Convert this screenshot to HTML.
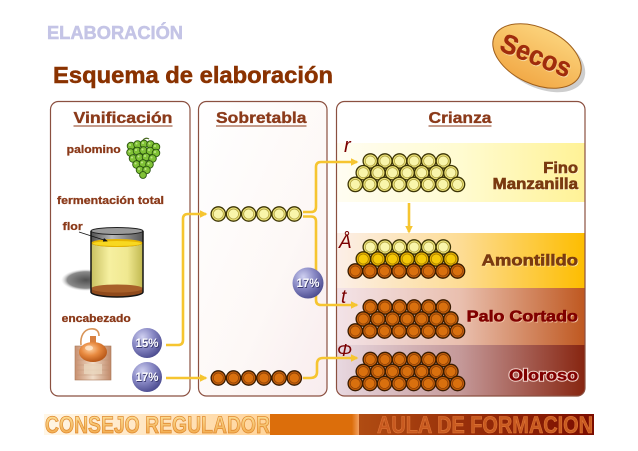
<!DOCTYPE html>
<html><head><meta charset="utf-8">
<style>
html,body{margin:0;padding:0;background:#fff;}
svg{display:block;}
text{font-family:"Liberation Sans",sans-serif;font-weight:bold;}
</style></head>
<body>
<svg width="638" height="451" viewBox="0 0 638 451" xmlns="http://www.w3.org/2000/svg">
<defs>
  <g id="by"><circle r="7.2" fill="#ebe177" stroke="#3d3505" stroke-width="1.3"/><circle r="5" fill="#f9f5aa" stroke="#aa9c3c" stroke-width="0.7"/></g>
  <g id="bg"><circle r="7.2" fill="#e6b000" stroke="#3d3000" stroke-width="1.3"/><circle r="5" fill="#f5c808" stroke="#a07800" stroke-width="0.7"/></g>
  <g id="bb"><circle r="7.2" fill="#c25e0c" stroke="#3a1c00" stroke-width="1.3"/><circle r="5" fill="#d9700e" stroke="#8a4008" stroke-width="0.7"/></g>

  <g id="r6y"><use href="#by" x="0"/><use href="#by" x="14.6"/><use href="#by" x="29.2"/><use href="#by" x="43.8"/><use href="#by" x="58.4"/><use href="#by" x="73"/></g>
  <g id="r7y"><use href="#by" x="0"/><use href="#by" x="14.6"/><use href="#by" x="29.2"/><use href="#by" x="43.8"/><use href="#by" x="58.4"/><use href="#by" x="73"/><use href="#by" x="87.6"/></g>
  <g id="r8y"><use href="#by" x="0"/><use href="#by" x="14.6"/><use href="#by" x="29.2"/><use href="#by" x="43.8"/><use href="#by" x="58.4"/><use href="#by" x="73"/><use href="#by" x="87.6"/><use href="#by" x="102.2"/></g>
  <g id="r7g"><use href="#bg" x="0"/><use href="#bg" x="14.6"/><use href="#bg" x="29.2"/><use href="#bg" x="43.8"/><use href="#bg" x="58.4"/><use href="#bg" x="73"/><use href="#bg" x="87.6"/></g>
  <g id="r6b"><use href="#bb" x="0"/><use href="#bb" x="14.6"/><use href="#bb" x="29.2"/><use href="#bb" x="43.8"/><use href="#bb" x="58.4"/><use href="#bb" x="73"/></g>
  <g id="r7b"><use href="#bb" x="0"/><use href="#bb" x="14.6"/><use href="#bb" x="29.2"/><use href="#bb" x="43.8"/><use href="#bb" x="58.4"/><use href="#bb" x="73"/><use href="#bb" x="87.6"/></g>
  <g id="r8b"><use href="#bb" x="0"/><use href="#bb" x="14.6"/><use href="#bb" x="29.2"/><use href="#bb" x="43.8"/><use href="#bb" x="58.4"/><use href="#bb" x="73"/><use href="#bb" x="87.6"/><use href="#bb" x="102.2"/></g>
  <g id="s6y"><use href="#by" x="0"/><use href="#by" x="15.2"/><use href="#by" x="30.4"/><use href="#by" x="45.6"/><use href="#by" x="60.8"/><use href="#by" x="76"/></g>
  <g id="s6b"><use href="#bb" x="0"/><use href="#bb" x="15.2"/><use href="#bb" x="30.4"/><use href="#bb" x="45.6"/><use href="#bb" x="60.8"/><use href="#bb" x="76"/></g>

  <marker id="ah" viewBox="0 0 10 10" refX="8" refY="5" markerWidth="3" markerHeight="3" orient="auto" markerUnits="strokeWidth">
    <path d="M0,0 L10,5 L0,10 z" fill="#f6c530"/>
  </marker>
  <marker id="ak" viewBox="0 0 10 10" refX="8" refY="5" markerWidth="6" markerHeight="6" orient="auto" markerUnits="strokeWidth">
    <path d="M0,1 L10,5 L0,9 z" fill="#111"/>
  </marker>

  <linearGradient id="gFino" x1="0" x2="1" y1="0" y2="0"><stop offset="0" stop-color="#fffdf2"/><stop offset="0.5" stop-color="#fffbd0"/><stop offset="1" stop-color="#fff296"/></linearGradient>
  <linearGradient id="gAmon" x1="0" x2="1"><stop offset="0" stop-color="#fcefe8"/><stop offset="0.5" stop-color="#fddc94"/><stop offset="1" stop-color="#fdbd00"/></linearGradient>
  <linearGradient id="gPalo" x1="0" x2="1"><stop offset="0" stop-color="#f3e3e8"/><stop offset="0.5" stop-color="#e9bfae"/><stop offset="1" stop-color="#bf5820"/></linearGradient>
  <linearGradient id="gOlo" x1="0" x2="1"><stop offset="0" stop-color="#e8d8e0"/><stop offset="0.5" stop-color="#c49898"/><stop offset="1" stop-color="#872510"/></linearGradient>
  <linearGradient id="gSobre" x1="0" y1="0" x2="1" y2="1"><stop offset="0" stop-color="#ffffff"/><stop offset="0.6" stop-color="#fdf8f6"/><stop offset="1" stop-color="#f8ecee"/></linearGradient>
  <radialGradient id="gPct" cx="0.35" cy="0.3" r="0.75"><stop offset="0" stop-color="#cfd0f0"/><stop offset="0.5" stop-color="#8888c4"/><stop offset="1" stop-color="#4a4a8e"/></radialGradient>
  <linearGradient id="gSecos" x1="0" y1="0" x2="0" y2="1"><stop offset="0" stop-color="#fbd27a"/><stop offset="1" stop-color="#f2aa48"/></linearGradient>
  <linearGradient id="gTankBody" x1="0" x2="1"><stop offset="0" stop-color="#c8c060"/><stop offset="0.35" stop-color="#f6f0a0"/><stop offset="0.7" stop-color="#f0e890"/><stop offset="1" stop-color="#c0b850"/></linearGradient>
  <linearGradient id="gTankTop" x1="0" x2="1"><stop offset="0" stop-color="#505050"/><stop offset="0.4" stop-color="#b8b8b8"/><stop offset="1" stop-color="#555"/></linearGradient>
  <radialGradient id="gShadow" cx="0.5" cy="0.5" r="0.5"><stop offset="0" stop-color="#505050"/><stop offset="0.75" stop-color="#8a8a8a"/><stop offset="1" stop-color="#ddd" stop-opacity="0"/></radialGradient>
  <radialGradient id="gCopper" cx="0.4" cy="0.35" r="0.65"><stop offset="0" stop-color="#ffd0a0"/><stop offset="0.5" stop-color="#e88a40"/><stop offset="1" stop-color="#b85818"/></radialGradient>
  <linearGradient id="gBox" x1="0" x2="1"><stop offset="0" stop-color="#c89070"/><stop offset="0.5" stop-color="#f0dcc8"/><stop offset="1" stop-color="#c08868"/></linearGradient>
  <linearGradient id="gFootL" x1="0" x2="1"><stop offset="0" stop-color="#fff6e6"/><stop offset="1" stop-color="#ffd49a"/></linearGradient>
  <linearGradient id="gFootLetters" x1="0" y1="0" x2="0" y2="1"><stop offset="0" stop-color="#fde7a4"/><stop offset="1" stop-color="#ef9e3a"/></linearGradient>
  <linearGradient id="gFootR" x1="0" x2="1"><stop offset="0" stop-color="#b04c12"/><stop offset="1" stop-color="#7a0c00"/></linearGradient>
  <linearGradient id="gFootMid" x1="0" x2="1"><stop offset="0" stop-color="#dd6f0c"/><stop offset="1" stop-color="#f2a060"/></linearGradient>
  <clipPath id="cCri"><rect x="337" y="101" width="248" height="295" rx="8"/></clipPath>
</defs>

<!-- Header -->
<text x="47" y="39" font-size="18" fill="#c4c4e6" stroke="#c4c4e6" stroke-width="0.5" textLength="136" lengthAdjust="spacingAndGlyphs">ELABORACIÓN</text>
<text x="53" y="83" font-size="23" fill="#8a3200" stroke="#8a3200" stroke-width="0.5" textLength="280" lengthAdjust="spacingAndGlyphs">Esquema de elaboración</text>

<!-- Secos badge -->
<ellipse cx="541" cy="60" rx="47" ry="28" transform="rotate(25 541 60)" fill="#bdbdbd" opacity="0.75"/>
<ellipse cx="537" cy="56" rx="47" ry="28" transform="rotate(25 537 56)" fill="url(#gSecos)" stroke="#a0601c" stroke-width="1"/>
<text x="536" y="65" font-size="27" fill="#f6d8a0" text-anchor="middle" transform="rotate(22 537 56) translate(1 1)" textLength="74" lengthAdjust="spacingAndGlyphs">Secos</text>
<text x="536" y="65" font-size="27" fill="#a02c0c" stroke="#a02c0c" stroke-width="0.4" text-anchor="middle" transform="rotate(22 537 56)" textLength="74" lengthAdjust="spacingAndGlyphs">Secos</text>

<!-- Panels -->
<rect x="50.5" y="101.5" width="139.5" height="294.5" rx="8" fill="#fff" stroke="#8b5040" stroke-width="1.2"/>
<rect x="198.5" y="101.5" width="128.5" height="294.5" rx="8" fill="url(#gSobre)" stroke="#8b5040" stroke-width="1.2"/>
<g clip-path="url(#cCri)">
  <rect x="337" y="101" width="248" height="295" fill="#fff"/>
  <rect x="337" y="143" width="248" height="59" fill="url(#gFino)"/>
  <rect x="337" y="233" width="248" height="55" fill="url(#gAmon)"/>
  <rect x="337" y="288" width="248" height="57" fill="url(#gPalo)"/>
  <rect x="337" y="345" width="248" height="51" fill="url(#gOlo)"/>
</g>
<rect x="336.5" y="101.5" width="248.5" height="294.5" rx="8" fill="none" stroke="#8b5040" stroke-width="1.2"/>

<!-- Panel titles -->
<g fill="#8b3a1a" stroke="#8b3a1a" stroke-width="0.35">
<text x="73.5" y="123" font-size="16" textLength="99" lengthAdjust="spacingAndGlyphs">Vinificación</text>
<text x="216" y="123" font-size="16" textLength="90.5" lengthAdjust="spacingAndGlyphs">Sobretabla</text>
<text x="428.5" y="123" font-size="16" textLength="63" lengthAdjust="spacingAndGlyphs">Crianza</text>
</g>
<line x1="73.5" y1="126" x2="172.5" y2="126" stroke="#8b3a1a" stroke-width="1"/>
<line x1="216" y1="126" x2="306.5" y2="126" stroke="#8b3a1a" stroke-width="1"/>
<line x1="428.5" y1="126" x2="491.5" y2="126" stroke="#8b3a1a" stroke-width="1"/>

<!-- Vinificación labels -->
<g fill="#8b3a1a" stroke="#8b3a1a" stroke-width="0.3">
<text x="66.7" y="153" font-size="11" textLength="54" lengthAdjust="spacingAndGlyphs">palomino</text>
<text x="57" y="204" font-size="11" textLength="107" lengthAdjust="spacingAndGlyphs">fermentación total</text>
<text x="62.7" y="230" font-size="11" textLength="20" lengthAdjust="spacingAndGlyphs">flor</text>
<text x="61.7" y="322" font-size="11" textLength="69" lengthAdjust="spacingAndGlyphs">encabezado</text>
</g>

<!-- Grapes -->
<g stroke="#2a5510" stroke-width="0.9" fill="#80c236">
  <path d="M143,140 q3,-3 6,-1" stroke="#4a6a20" fill="none" stroke-width="1.2"/>
  <circle cx="131" cy="146" r="3.8"/><circle cx="137.5" cy="144.5" r="3.8"/><circle cx="144" cy="144" r="3.8"/><circle cx="150.5" cy="144.5" r="3.8"/><circle cx="156" cy="147" r="3.8"/>
  <circle cx="130.5" cy="152.5" r="3.8"/><circle cx="137" cy="151" r="3.8"/><circle cx="143.5" cy="150.5" r="3.8"/><circle cx="150" cy="151" r="3.8"/><circle cx="156" cy="153" r="3.8"/>
  <circle cx="133" cy="158.5" r="3.8"/><circle cx="139.5" cy="157.5" r="3.8"/><circle cx="146" cy="157" r="3.8"/><circle cx="152.5" cy="158.5" r="3.8"/>
  <circle cx="136.5" cy="164.5" r="3.8"/><circle cx="143" cy="163.5" r="3.8"/><circle cx="149.5" cy="164.5" r="3.8"/>
  <circle cx="140" cy="170" r="3.8"/><circle cx="146.5" cy="170" r="3.8"/>
  <circle cx="143" cy="175" r="3.4"/>
</g>
<g fill="#d0eca0" opacity="0.8">
  <circle cx="130" cy="145" r="1"/><circle cx="136.5" cy="143.5" r="1"/><circle cx="143" cy="143" r="1"/><circle cx="149.5" cy="143.5" r="1"/><circle cx="155" cy="146" r="1"/>
  <circle cx="129.5" cy="151.5" r="1"/><circle cx="136" cy="150" r="1"/><circle cx="142.5" cy="149.5" r="1"/><circle cx="149" cy="150" r="1"/><circle cx="155" cy="152" r="1"/>
  <circle cx="132" cy="157.5" r="1"/><circle cx="138.5" cy="156.5" r="1"/><circle cx="145" cy="156" r="1"/><circle cx="151.5" cy="157.5" r="1"/>
  <circle cx="135.5" cy="163.5" r="1"/><circle cx="142" cy="162.5" r="1"/><circle cx="148.5" cy="163.5" r="1"/>
  <circle cx="139" cy="169" r="1"/><circle cx="145.5" cy="169" r="1"/>
</g>

<!-- Tank -->
<ellipse cx="86" cy="280" rx="25" ry="11" fill="url(#gShadow)"/>
<path d="M91,231 V292 A26,5 0 0 0 143,292 V231 Z" fill="url(#gTankBody)"/>
<path d="M91,231 V243 A26,4 0 0 0 143,243 V231 Z" fill="url(#gTankTop)"/>
<ellipse cx="117" cy="243" rx="26" ry="4" fill="#e6b400"/>
<ellipse cx="117" cy="243.5" rx="24" ry="2.5" fill="#f8d820"/>
<path d="M91,288 V292 A26,5 0 0 0 143,292 V288 A26,4 0 0 1 91,288 Z" fill="#8f4a1c"/>
<ellipse cx="117" cy="288.5" rx="26" ry="4" fill="#a8602a"/>
<ellipse cx="117" cy="231" rx="26" ry="3.5" fill="#9a9a9a" stroke="#222" stroke-width="1"/>
<path d="M91,231 V292 A26,5 0 0 0 143,292 V231" fill="none" stroke="#151515" stroke-width="1.5"/>
<line x1="79" y1="232" x2="107" y2="241" stroke="#111" stroke-width="0.8" marker-end="url(#ak)"/>

<!-- Alembic -->
<rect x="75" y="346" width="36" height="34" fill="url(#gBox)" stroke="#a87858" stroke-width="0.6"/>
<g stroke="#b89070" stroke-width="0.5" opacity="0.7">
  <line x1="77" y1="350" x2="109" y2="350"/><line x1="77" y1="355" x2="109" y2="355"/><line x1="77" y1="360" x2="109" y2="360"/><line x1="77" y1="365" x2="109" y2="365"/><line x1="77" y1="370" x2="109" y2="370"/><line x1="77" y1="375" x2="109" y2="375"/>
</g>
<rect x="84" y="364" width="18" height="10" fill="#e8d4bc" opacity="0.8"/>
<path d="M81,345 C80,336 84,330 90,329 C96,328 99,331 99,336" fill="none" stroke="#d89458" stroke-width="1.6"/>
<rect x="90" y="336" width="6" height="7" fill="#d88040"/>
<ellipse cx="93" cy="352" rx="14" ry="10" fill="url(#gCopper)"/>
<ellipse cx="89" cy="348" rx="4" ry="2.5" fill="#ffe8d0" opacity="0.8"/>

<!-- Connectors -->
<g fill="none" stroke="#f6c530" stroke-width="2.6" stroke-linejoin="round">
  <path d="M166,345 H178 Q183,345 183,340 V219 Q183,214 188,214 H206" marker-end="url(#ah)"/>
  <path d="M166,378 H206" marker-end="url(#ah)"/>
  <path d="M303,212 H311 Q316,212 316,207 V167 Q316,162 321,162 H357" marker-end="url(#ah)"/>
  <path d="M303,216.5 H311 Q316,216.5 316,221.5 V300 Q316,305 321,305 H357" marker-end="url(#ah)"/>
  <path d="M303,378 H310 Q317,378 317,372 V364 Q317,358 323,358 H357" marker-end="url(#ah)"/>
  <path d="M409,203 V232" marker-end="url(#ah)"/>
</g>

<!-- Sobretabla barrels -->
<use href="#s6y" x="218.3" y="214"/>
<use href="#s6b" x="218.3" y="378"/>

<!-- Percent circles -->
<circle cx="308" cy="283" r="15.5" fill="url(#gPct)"/>
<text x="308" y="287" font-size="11.5" fill="#3a3a70" text-anchor="middle" transform="translate(0.8 0.8)">17%</text>
<text x="308" y="287" font-size="11.5" fill="#fff" text-anchor="middle">17%</text>
<circle cx="147" cy="343" r="15" fill="url(#gPct)"/>
<text x="147" y="347" font-size="11.5" fill="#3a3a70" text-anchor="middle" transform="translate(0.8 0.8)">15%</text>
<text x="147" y="347" font-size="11.5" fill="#fff" text-anchor="middle">15%</text>
<circle cx="147" cy="377" r="15" fill="url(#gPct)"/>
<text x="147" y="381" font-size="11.5" fill="#3a3a70" text-anchor="middle" transform="translate(0.8 0.8)">17%</text>
<text x="147" y="381" font-size="11.5" fill="#fff" text-anchor="middle">17%</text>

<!-- Greek letters -->
<g font-family="'Liberation Serif',serif" font-style="italic" fill="#7a0000">
  <text x="344" y="152" font-size="20" style="font-weight:normal">r</text>
  <text x="339" y="248" font-size="19" style="font-weight:normal">Å</text>
  <text x="341" y="303" font-size="19" style="font-weight:normal">t</text>
  <text x="337" y="356" font-size="18" style="font-weight:normal">Φ</text>
</g>

<!-- Crianza barrels -->
<use href="#r6y" x="370.3" y="161"/>
<use href="#r7y" x="363.3" y="172.7"/>
<use href="#r8y" x="355.3" y="184.4"/>

<use href="#r6y" x="370.3" y="247"/>
<use href="#r7g" x="363.3" y="259"/>
<use href="#r8b" x="355.3" y="271"/>

<use href="#r6b" x="370.3" y="307"/>
<use href="#r7b" x="363.3" y="319"/>
<use href="#r8b" x="355.3" y="331"/>

<use href="#r6b" x="370.3" y="359.5"/>
<use href="#r7b" x="363.3" y="371.5"/>
<use href="#r8b" x="355.3" y="383.5"/>

<!-- Crianza labels -->
<g font-size="15.5">
  <text x="544.3" y="174" fill="#fff6d0" textLength="34.7" lengthAdjust="spacingAndGlyphs">Fino</text>
  <text x="543.3" y="173" fill="#7a3a10" stroke="#7a3a10" stroke-width="0.6" textLength="34.7" lengthAdjust="spacingAndGlyphs">Fino</text>
  <text x="493.7" y="190" fill="#fff6d0" textLength="85.3" lengthAdjust="spacingAndGlyphs">Manzanilla</text>
  <text x="492.7" y="189" fill="#7a3a10" stroke="#7a3a10" stroke-width="0.6" textLength="85.3" lengthAdjust="spacingAndGlyphs">Manzanilla</text>
  <text x="482.7" y="266.5" fill="#ffe9a0" textLength="96.3" lengthAdjust="spacingAndGlyphs">Amontilldo</text>
  <text x="481.7" y="265.5" fill="#7a3a10" stroke="#7a3a10" stroke-width="0.6" textLength="96.3" lengthAdjust="spacingAndGlyphs">Amontilldo</text>
  <text x="467.7" y="322.5" fill="#f4c8a8" textLength="111.3" lengthAdjust="spacingAndGlyphs">Palo Cortado</text>
  <text x="466.7" y="321.5" fill="#800000" stroke="#800000" stroke-width="0.6" textLength="111.3" lengthAdjust="spacingAndGlyphs">Palo Cortado</text>
  <text x="509" y="380.5" fill="#800000" stroke="#f0d0c8" stroke-width="2.4" textLength="69" lengthAdjust="spacingAndGlyphs">Oloroso</text>
  <text x="509" y="380.5" fill="#800000" stroke="#800000" stroke-width="0.5" textLength="69" lengthAdjust="spacingAndGlyphs">Oloroso</text>
</g>

<!-- Footer -->
<rect x="44" y="414" width="226" height="21" fill="url(#gFootL)"/>
<rect x="270" y="414" width="82" height="21" fill="#dc6e0b"/>
<rect x="352" y="414" width="7" height="21" fill="url(#gFootMid)"/>
<rect x="359" y="414" width="235" height="21" fill="url(#gFootR)"/>
<text x="45" y="433" font-size="24" fill="url(#gFootLetters)" stroke="#e08a30" stroke-width="0.8" textLength="225" lengthAdjust="spacingAndGlyphs">CONSEJO REGULADOR</text>
<text x="377" y="433" font-size="24" fill="#c95a20" stroke="#e07a3a" stroke-width="0.6" textLength="216" lengthAdjust="spacingAndGlyphs">AULA DE FORMACION</text>
</svg>
</body></html>
